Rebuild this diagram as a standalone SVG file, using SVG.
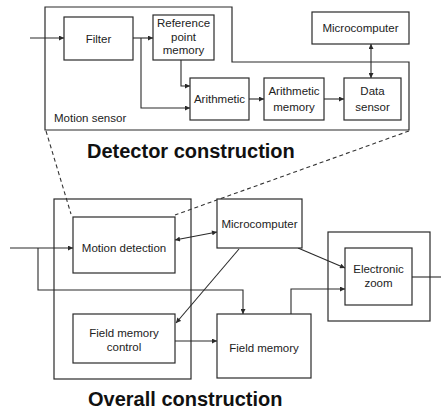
<svg xmlns="http://www.w3.org/2000/svg" width="441" height="411" viewBox="0 0 441 411">
<defs>
<marker id="ah" viewBox="0 0 10 10" refX="10" refY="5" markerWidth="6" markerHeight="5" orient="auto-start-reverse" markerUnits="userSpaceOnUse">
<path d="M0,0 L10,5 L0,10 z" fill="#2a2a2a"/>
</marker>
<style>
.b{fill:#fff;stroke:#2a2a2a;stroke-width:1.2}
.o{fill:none;stroke:#2a2a2a;stroke-width:1.2}
.l{fill:none;stroke:#2a2a2a;stroke-width:1.1}
.a{fill:none;stroke:#2a2a2a;stroke-width:1.1;marker-end:url(#ah)}
.d{fill:none;stroke:#2a2a2a;stroke-width:1.1;marker-end:url(#ah);marker-start:url(#ah)}
.dash{fill:none;stroke:#333;stroke-width:1.1;stroke-dasharray:4 3}
.t{font-family:"Liberation Sans",Arial,sans-serif;font-size:11.5px;fill:#222;text-anchor:middle}
.tl{font-family:"Liberation Sans",Arial,sans-serif;font-size:11.5px;fill:#222}
.h{font-family:"Liberation Sans",Arial,sans-serif;font-size:20px;font-weight:bold;fill:#111}
</style>
</defs>
<rect width="441" height="411" fill="#fff"/>

<g id="motion-sensor">
<path class="o" d="M45,7 H232 V62 H409 V130 H45 Z"/>
<text class="tl" x="54" y="122">Motion sensor</text>
</g>
<g id="detector-title"><text class="h" x="87" y="158">Detector construction</text></g>

<g id="overall-box"><rect class="o" x="54" y="199" width="137" height="180"/></g>
<g id="ezoom-outer"><rect class="o" x="328" y="232" width="102" height="89"/></g>
<g id="overall-title"><text class="h" x="88" y="406">Overall construction</text></g>

<g id="connectors">
<path class="dash" d="M46,131 L71,214"/>
<path class="dash" d="M409,131 L175,215"/>
<path class="a" d="M30,38 H64"/>
<path class="a" d="M133,38 H153"/>
<path class="a" d="M141,38 V108 H190"/>
<path class="a" d="M181,60 V86 H190"/>
<path class="a" d="M249,99 H264"/>
<path class="a" d="M324,99 H344"/>
<path class="d" d="M371,44 V78"/>
<path class="a" d="M10,248 H73"/>
<path class="a" d="M38,248 V290 H243 V314"/>
<path class="d" d="M175,240 L217,232"/>
<path class="a" d="M239,249 L176,323"/>
<path class="a" d="M298,248 L345,268"/>
<path class="a" d="M175,341 H217"/>
<path class="a" d="M291,314 V289 H345"/>
<path class="l" d="M412,277 H441"/>
</g>

<g id="filter"><rect class="b" x="64" y="17" width="69" height="43"/><text class="t" x="98.5" y="43">Filter</text></g>
<g id="ref-point-memory"><rect class="b" x="153" y="15" width="61" height="45"/><text class="t" x="183.5" y="27">Reference</text><text class="t" x="183.5" y="41">point</text><text class="t" x="183.5" y="54">memory</text></g>
<g id="arithmetic"><rect class="b" x="190" y="78" width="59" height="42"/><text class="t" x="219.5" y="103">Arithmetic</text></g>
<g id="arithmetic-memory"><rect class="b" x="264" y="78" width="60" height="42"/><text class="t" x="294" y="95">Arithmetic</text><text class="t" x="294" y="111">memory</text></g>
<g id="data-sensor"><rect class="b" x="344" y="78" width="57" height="42"/><text class="t" x="372.5" y="95">Data</text><text class="t" x="372.5" y="111">sensor</text></g>
<g id="microcomputer-top"><rect class="b" x="312" y="12" width="97" height="32"/><text class="t" x="360.5" y="32">Microcomputer</text></g>

<g id="motion-detection"><rect class="b" x="73" y="217" width="102" height="56"/><text class="t" x="124" y="252">Motion detection</text></g>
<g id="field-memory-control"><rect class="b" x="73" y="314" width="102" height="49"/><text class="t" x="124" y="337">Field memory</text><text class="t" x="124" y="351">control</text></g>
<g id="microcomputer"><rect class="b" x="217" y="199" width="85" height="49"/><text class="t" x="259.5" y="228">Microcomputer</text></g>
<g id="field-memory"><rect class="b" x="217" y="314" width="94" height="64"/><text class="t" x="264" y="352">Field memory</text></g>
<g id="electronic-zoom"><rect class="b" x="345" y="248" width="67" height="57"/><text class="t" x="378.5" y="273">Electronic</text><text class="t" x="378.5" y="287">zoom</text></g>
</svg>
